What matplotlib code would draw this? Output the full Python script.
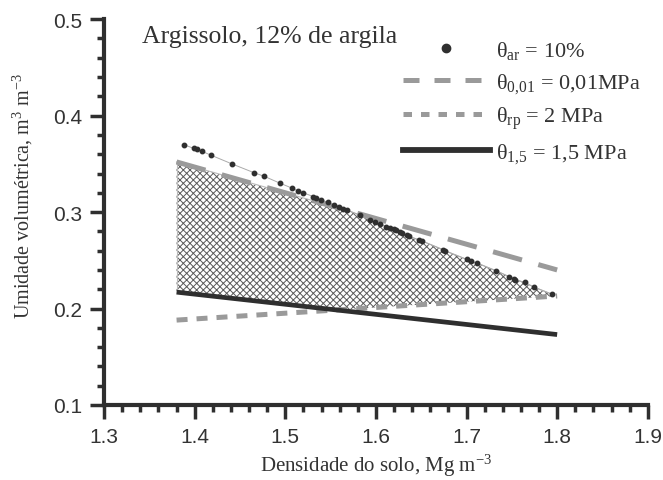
import numpy as np
import matplotlib.pyplot as plt
from matplotlib.lines import Line2D
from matplotlib.ticker import MultipleLocator

# theta_ar = 10%
ar_x = [1.388, 1.399, 1.402, 1.408, 1.418, 1.441, 1.465, 1.477, 1.494, 1.507,
        1.514, 1.520, 1.531, 1.534, 1.539, 1.547, 1.554, 1.559, 1.564, 1.568,
        1.582, 1.594, 1.599, 1.604, 1.611, 1.615, 1.620, 1.622, 1.627, 1.629,
        1.634, 1.636, 1.648, 1.651, 1.674, 1.676, 1.700, 1.705, 1.712, 1.733,
        1.747, 1.752, 1.754, 1.764, 1.775, 1.794]
ar_y = [0.370, 0.366, 0.365, 0.363, 0.359, 0.350, 0.341, 0.337, 0.330, 0.325,
        0.322, 0.320, 0.316, 0.315, 0.313, 0.310, 0.307, 0.305, 0.303, 0.302,
        0.297, 0.292, 0.290, 0.288, 0.285, 0.284, 0.282, 0.281, 0.279, 0.278,
        0.276, 0.275, 0.271, 0.270, 0.261, 0.260, 0.251, 0.249, 0.247, 0.239,
        0.233, 0.231, 0.230, 0.227, 0.222, 0.215]

# limiting water contents vs bulk density
dens = [1.38, 1.80]
th_001 = [0.352, 0.240]
th_rp = [0.188, 0.213]
th_15 = [0.217, 0.173]

serif = "Liberation Serif"
sans = "Liberation Sans"
plt.rcParams["mathtext.fontset"] = "custom"
plt.rcParams["mathtext.rm"] = serif
plt.rcParams["mathtext.it"] = serif
plt.rcParams["hatch.linewidth"] = 0.7

fig = plt.figure(figsize=(6.63, 4.81), dpi=100)
ax = fig.add_axes([0.157, 0.156, 0.82, 0.802])

# shaded interval (upper: min of ar / 0.01, lower: max of rp / 1.5)
xs = np.linspace(1.38, 1.795, 200)
up = np.minimum(np.interp(xs, dens, th_001), np.interp(xs, ar_x, ar_y, left=0.375))
lo = np.maximum(np.interp(xs, dens, th_rp), np.interp(xs, dens, th_15))
ax.fill_between(xs, lo, up, facecolor="white", edgecolor="#5a5a5a",
                hatch="xxxxx", linewidth=0)
ax.plot(xs, up, color="#bbbbbb", lw=0.8)
ax.plot([xs[0], xs[0]], [lo[0], up[0]], color="#bbbbbb", lw=0.8)

c_dark = "#2f2f2f"
c_gray = "#9a9a9a"
ax.plot(ar_x, ar_y, color="#aaaaaa", lw=0.7, zorder=3)
ax.plot(ar_x, ar_y, "o", color=c_dark, ms=3.2, zorder=4)
ax.plot(dens, th_001, color=c_gray, lw=3.6, dashes=(6, 3.4), zorder=3)
ax.plot(dens, th_rp, color=c_gray, lw=3.6, dashes=(2.2, 1.8), zorder=3)
ax.plot(dens, th_15, color=c_dark, lw=3.4, solid_capstyle="butt", zorder=3)

handles = [
    Line2D([], [], color=c_dark, marker="o", ms=6, linestyle="none"),
    Line2D([], [], color=c_gray, lw=3.6, dashes=(3.2, 3.0)),
    Line2D([], [], color=c_gray, lw=3.6, dashes=(1.7, 1.8)),
    Line2D([], [], color=c_dark, lw=4.2),
]
labels = [r"θ$_{\mathrm{ar}}$ = 10%",
          r"θ$_{0{,}01}$ = 0,01MPa",
          r"θ$_{\mathrm{rp}}$ = 2 MPa",
          r"θ$_{1{,}5}$ = 1,5 MPa"]
leg = ax.legend(handles, labels, loc="upper right", bbox_to_anchor=(1.025, 1.0),
                frameon=False, handlelength=3.9, handletextpad=0.3,
                labelspacing=0.44, prop={"family": serif, "size": 16})
for t in leg.get_texts():
    t.set_color("#333333")

ax.text(0.07, 0.985, "Argissolo, 12% de argila", transform=ax.transAxes,
        ha="left", va="top", family=serif, fontsize=18.5, color="#333333")

ax.set_xlim(1.3, 1.9)
ax.set_ylim(0.1, 0.5)
ax.xaxis.set_major_locator(MultipleLocator(0.1))
ax.xaxis.set_minor_locator(MultipleLocator(0.02))
ax.yaxis.set_major_locator(MultipleLocator(0.1))
ax.yaxis.set_minor_locator(MultipleLocator(0.02))
ax.xaxis.set_major_formatter(plt.FuncFormatter(lambda v, p: f"{v:.1f}"))
ax.yaxis.set_major_formatter(plt.FuncFormatter(lambda v, p: f"{v:.1f}"))

for s in ["top", "right"]:
    ax.spines[s].set_visible(False)
for s in ["left", "bottom"]:
    ax.spines[s].set_linewidth(3)
    ax.spines[s].set_color(c_dark)
ax.tick_params(which="major", length=10, width=2.5, color=c_dark,
               labelsize=15, labelcolor="#333333", pad=6)
ax.tick_params(which="minor", length=5, width=2.5, color=c_dark)
for lab in ax.get_xticklabels() + ax.get_yticklabels():
    lab.set_family(sans)

ax.set_xlabel(r"Densidade do solo, Mg m$^{-3}$", family=serif, fontsize=15,
              color="#333333", labelpad=4)
ax.set_ylabel(r"Umidade volumétrica, m$^3$ m$^{-3}$", family=serif, fontsize=14.5,
              color="#333333")
ax.yaxis.set_label_coords(-0.127, 0.545)

fig.savefig("out.png", dpi=100)
